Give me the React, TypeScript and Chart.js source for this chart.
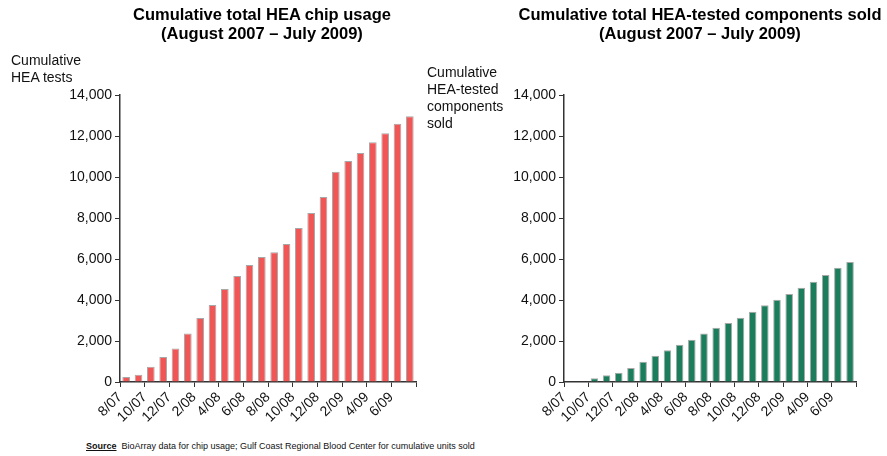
import React, { useEffect, useRef } from "react";
import { Chart, registerables } from "chart.js";

Chart.register(...registerables);

const months = ["8/07","9/07","10/07","11/07","12/07","1/08","2/08","3/08","4/08","5/08","6/08","7/08","8/08","9/08","10/08","11/08","12/08","1/09","2/09","3/09","4/09","5/09","6/09","7/09"];
const xTickLabels = ["8/07","10/07","12/07","2/08","4/08","6/08","8/08","10/08","12/08","2/09","4/09","6/09",""];
const chipUsage = [250,350,750,1220,1630,2370,3120,3760,4540,5170,5710,6100,6330,6730,7510,8240,9020,10260,10780,11170,11690,12130,12600,12960];
const componentsSold = [0,30,180,325,455,685,990,1285,1545,1820,2065,2360,2650,2880,3140,3430,3740,4015,4295,4600,4895,5220,5575,5855];
const yTicks = [0,2000,4000,6000,8000,10000,12000,14000];

const FONT = "'Liberation Sans', Arial, Helvetica, sans-serif";

function BarChart(props: { values: number[]; color: string; left: number; yWidth: number; padRight: number }) {
  const ref = useRef<HTMLCanvasElement | null>(null);
  useEffect(() => {
    if (!ref.current) return;
    const data = props.values.map((v, i) => ({ x: i + 0.5, y: v }));
    const chart = new Chart(ref.current, {
      type: "bar",
      data: {
        datasets: [
          {
            label: "values",
            data: data as any,
            backgroundColor: props.color,
            borderColor: "#a8a8a8",
            borderWidth: 1,
            borderSkipped: "start",
            barPercentage: 0.62,
            categoryPercentage: 1,
          },
        ],
      },
      options: {
        animation: false,
        responsive: false,
        layout: { padding: { top: 95, right: props.padRight, left: 0, bottom: 0 } },
        plugins: { legend: { display: false }, tooltip: { enabled: false }, title: { display: false } },
        scales: {
          x: {
            type: "linear",
            min: 0,
            max: months.length,
            offset: false,
            grid: { display: true, drawOnChartArea: false, drawTicks: true, tickLength: 5, color: "#333", offset: false },
            border: { display: true, color: "#333", width: 1.5 },
            ticks: {
              stepSize: 2,
              autoSkip: false,
              maxRotation: 45,
              minRotation: 45,
              padding: 2,
              color: "#111",
              font: { family: FONT, size: 14 },
              callback: (v: any) => {
                const idx = Math.round(Number(v) / 2);
                return xTickLabels[idx] ?? "";
              },
            },
            afterFit: (s: any) => {
              s.height = 58;
            },
          },
          y: {
            type: "linear",
            min: 0,
            max: 14000,
            grid: { display: true, drawOnChartArea: false, drawTicks: true, tickLength: 5, color: "#333" },
            border: { display: true, color: "#333", width: 1.5 },
            afterBuildTicks: (s: any) => {
              s.ticks = yTicks.map((v) => ({ value: v }));
            },
            ticks: {
              padding: 3,
              color: "#111",
              font: { family: FONT, size: 14 },
              callback: (v: any) => Number(v).toLocaleString("en-US"),
            },
            afterFit: (s: any) => {
              s.width = props.yWidth;
            },
          },
        },
      },
    });
    return () => chart.destroy();
  }, []);
  return (
    <canvas
      ref={ref}
      width={430}
      height={440}
      style={{ position: "absolute", left: props.left, top: 0, width: 430, height: 440 }}
    />
  );
}

const titleStyle: React.CSSProperties = {
  position: "absolute",
  top: 5,
  fontFamily: FONT,
  fontWeight: "bold",
  fontSize: 16.5,
  lineHeight: "19px",
  textAlign: "center",
  color: "#000",
  whiteSpace: "nowrap",
};

const axisTitleStyle: React.CSSProperties = {
  position: "absolute",
  fontFamily: FONT,
  fontSize: 14,
  lineHeight: "17px",
  color: "#111",
  whiteSpace: "nowrap",
};

export default function App() {
  return (
    <div style={{ position: "absolute", left: 0, top: 0, width: 887, height: 456, background: "#fff", overflow: "hidden" }}>
      <BarChart values={chipUsage} color="#f05656" left={0} yWidth={120} padRight={14} />
      <BarChart values={componentsSold} color="#1b7d5c" left={440} yWidth={124} padRight={11} />
      <div style={{ ...titleStyle, left: 62, width: 400 }}>
        Cumulative total HEA chip usage
        <br />
        (August 2007 – July 2009)
      </div>
      <div style={{ ...titleStyle, left: 500, width: 400 }}>
        Cumulative total HEA-tested components sold
        <br />
        (August 2007 – July 2009)
      </div>
      <div style={{ ...axisTitleStyle, left: 11, top: 52, lineHeight: "16.5px" }}>
        Cumulative
        <br />
        HEA tests
      </div>
      <div style={{ ...axisTitleStyle, left: 427, top: 63.5 }}>
        Cumulative
        <br />
        HEA-tested
        <br />
        components
        <br />
        sold
      </div>
      <div style={{ position: "absolute", left: 86, top: 440, fontFamily: FONT, fontSize: 9, lineHeight: "12px", color: "#111", whiteSpace: "nowrap" }}>
        <span style={{ fontWeight: "bold", textDecoration: "underline" }}>Source</span>
        {"\u00a0\u00a0"}BioArray data for chip usage; Gulf Coast Regional Blood Center for cumulative units sold
      </div>
    </div>
  );
}
